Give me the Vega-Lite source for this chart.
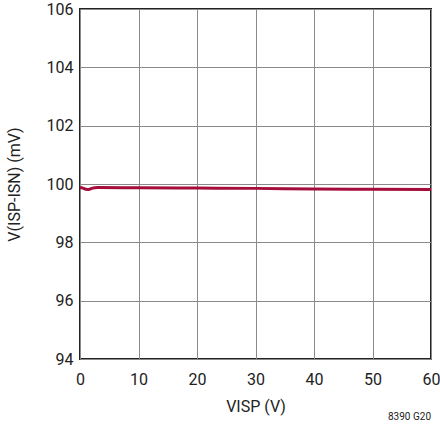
{
  "$schema": "https://vega.github.io/schema/vega-lite/v6.json",
  "autosize": {"type": "none"},
  "padding": {"left": 80, "top": 9, "right": 9, "bottom": 87},
  "width": 351,
  "height": 350,
  "background": "white",
  "config": {
    "font": "Roboto",
    "view": {"stroke": "#222222", "strokeWidth": 2},
    "axis": {
      "labelFont": "Roboto",
      "titleFont": "Roboto",
      "labelFontSize": 16,
      "titleFontSize": 16,
      "labelColor": "#222222",
      "titleColor": "#222222",
      "titleFontWeight": "normal",
      "gridColor": "#8a8a8a",
      "gridWidth": 1,
      "gridOpacity": 1,
      "ticks": false,
      "domain": false,
      "labelFlush": false
    }
  },
  "title": {
    "text": "8390 G20",
    "orient": "bottom",
    "anchor": "end",
    "frame": "group",
    "fontSize": 10,
    "fontWeight": "normal",
    "font": "Roboto",
    "color": "#222222",
    "offset": -2
  },
  "data": {
    "values": [
      {"v": 0, "mv": 99.88},
      {"v": 0.5, "mv": 99.86},
      {"v": 1, "mv": 99.82},
      {"v": 1.5, "mv": 99.81},
      {"v": 2, "mv": 99.85},
      {"v": 3, "mv": 99.88},
      {"v": 10, "mv": 99.87},
      {"v": 20, "mv": 99.86},
      {"v": 30, "mv": 99.85},
      {"v": 40, "mv": 99.83},
      {"v": 50, "mv": 99.82},
      {"v": 60, "mv": 99.81}
    ]
  },
  "mark": {"type": "line", "color": "#a50d3c", "strokeWidth": 3, "interpolate": "monotone"},
  "encoding": {
    "x": {
      "field": "v",
      "type": "quantitative",
      "scale": {"domain": [0, 60], "nice": false},
      "axis": {"values": [0, 10, 20, 30, 40, 50, 60], "title": "VISP (V)", "labelPadding": 12, "titlePadding": 11}
    },
    "y": {
      "field": "mv",
      "type": "quantitative",
      "scale": {"domain": [94, 106], "nice": false, "zero": false},
      "axis": {"values": [94, 96, 98, 100, 102, 104, 106], "title": "V(ISP-ISN) (mV)", "labelPadding": 7, "titlePadding": 24}
    }
  }
}
